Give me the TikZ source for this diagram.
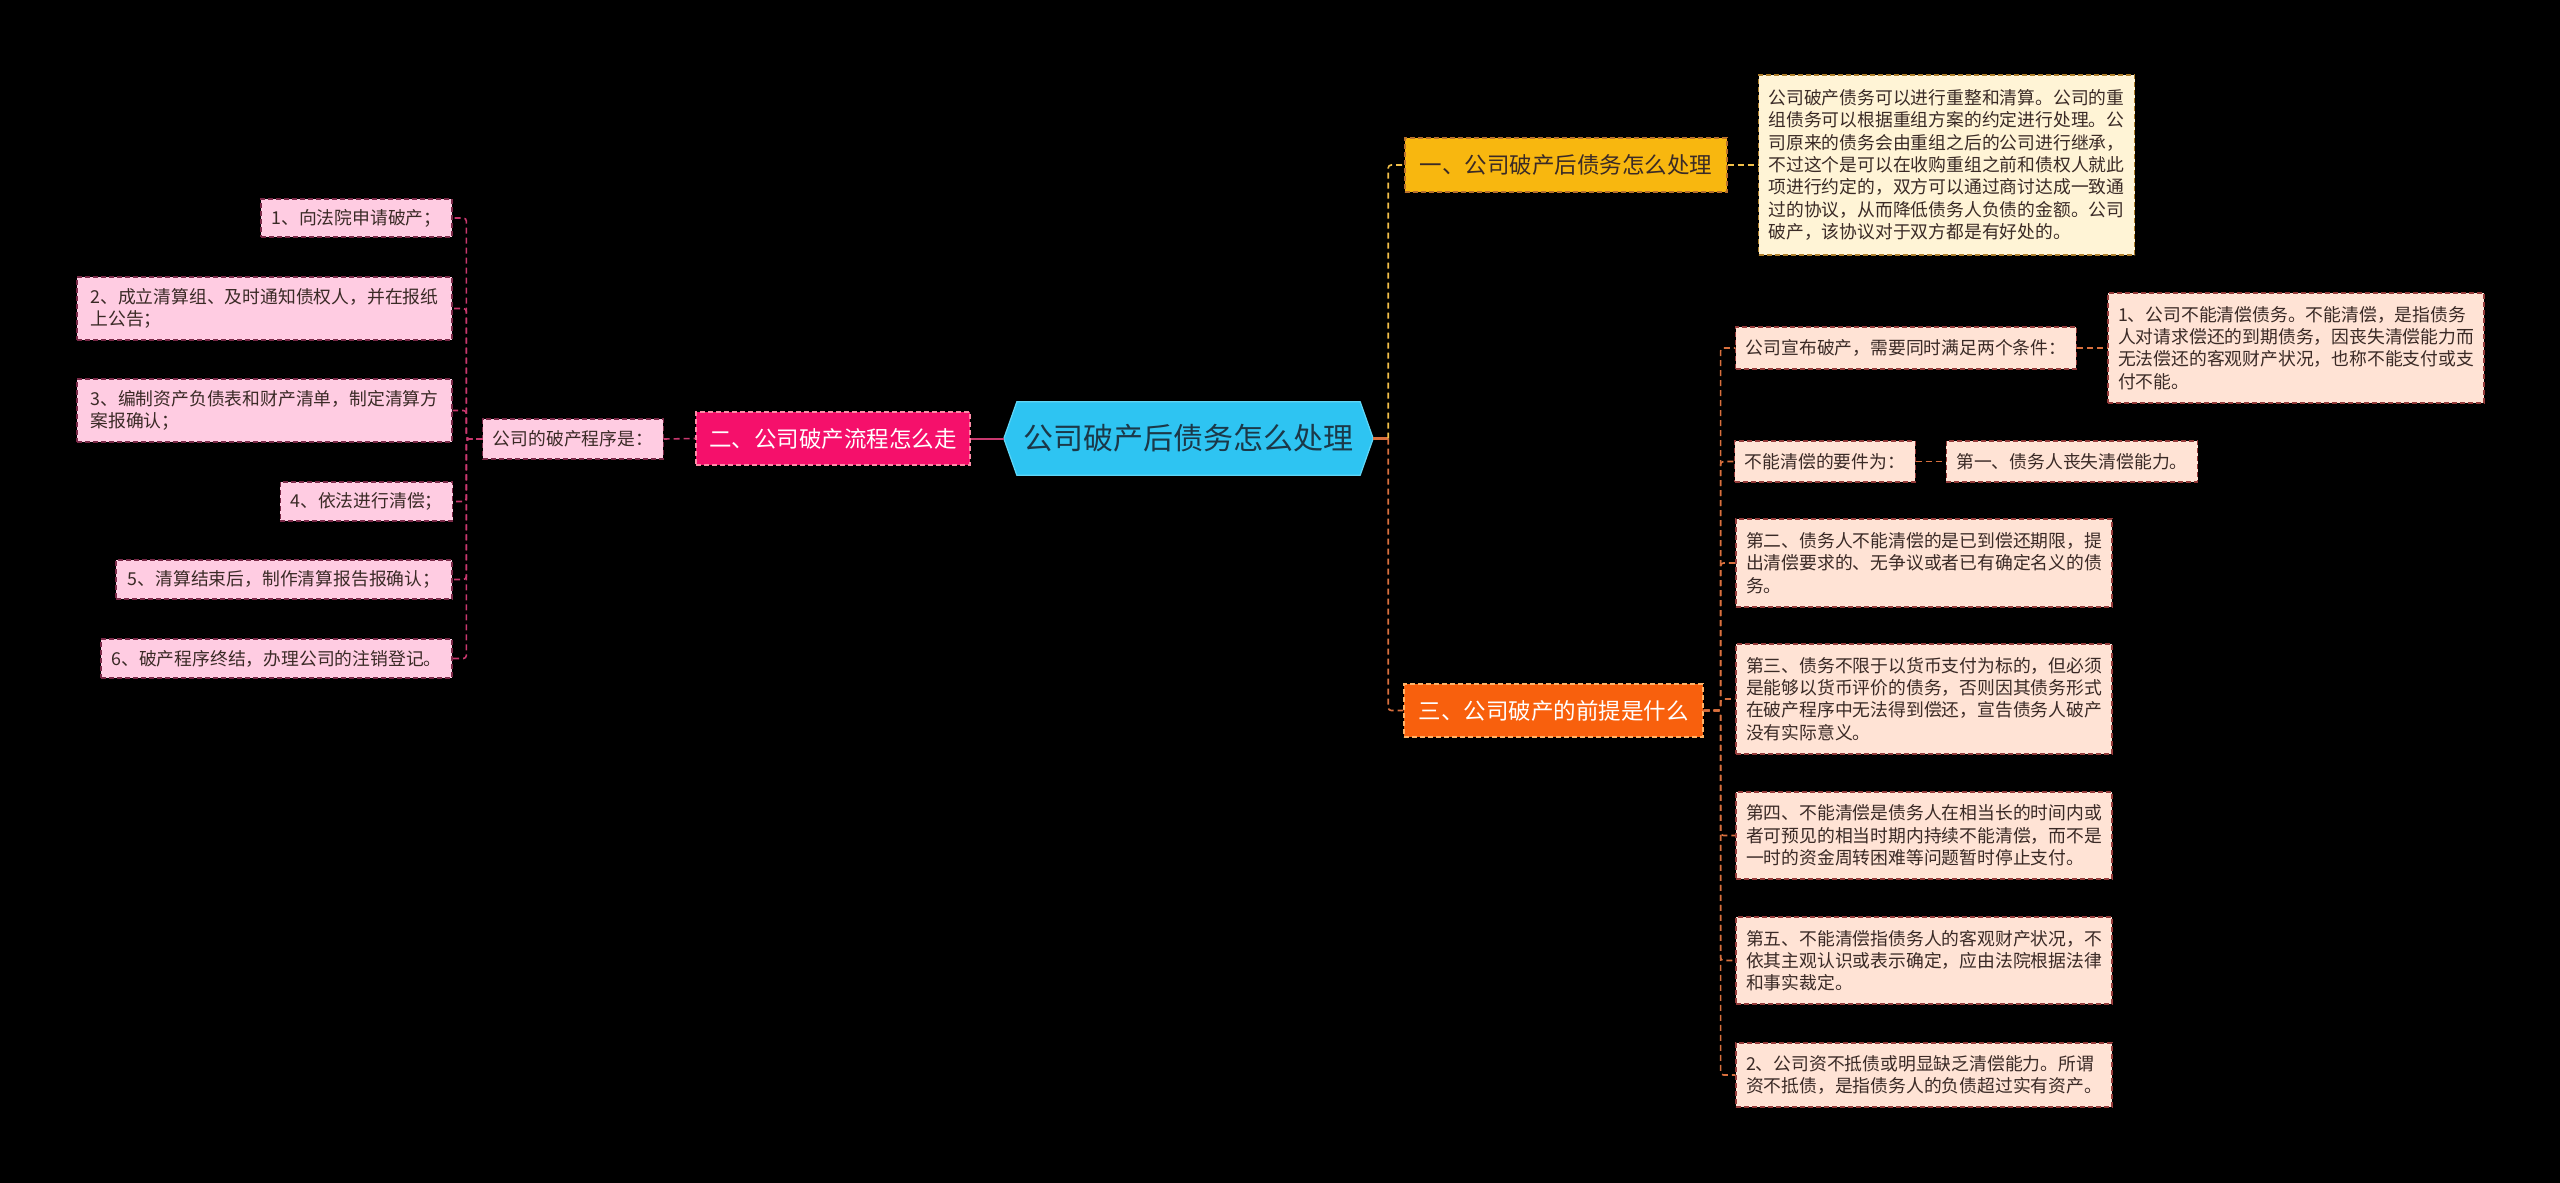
\documentclass[tikz,border=0pt]{standalone}
\usepackage{fontspec}
\setmainfont{Noto Sans CJK SC}
\usetikzlibrary{backgrounds}
\definecolor{rootfill}{HTML}{2EC4F2}
\definecolor{rootline}{HTML}{5FD6F7}
\definecolor{roottext}{HTML}{1B3848}
\definecolor{pinkmain}{HTML}{F5106B}
\definecolor{pinkline}{HTML}{C8386E}
\definecolor{pinklight}{HTML}{FFCCE2}
\definecolor{pinkborder}{HTML}{7A2A48}
\definecolor{yellowmain}{HTML}{F8B70F}
\definecolor{yellowline}{HTML}{F2C04A}
\definecolor{cream}{HTML}{FFF4D6}
\definecolor{orangemain}{HTML}{F8600D}
\definecolor{orangeline}{HTML}{D9703E}
\definecolor{peach}{HTML}{FFE3D5}
\definecolor{darktext}{HTML}{3A2A26}
\tikzset{
  x=1pt, y=-1pt,
  box/.style={draw, dash pattern=on 5pt off 3pt, line width=1.1pt, inner xsep=10pt, inner ysep=0pt,
    align=left, anchor=center, font=\fontsize{17.8}{22.3}\selectfont},
  lbox/.style={box, fill=pinklight, draw=pinkborder, text=darktext},
  rbox/.style={box, fill=peach, draw=pinkborder!80!orange, text=darktext},
  nbox/.style={box, fill=cream, draw=pinkborder!60!yellow, text=darktext},
  mainbox/.style={draw, dash pattern=on 5pt off 3pt, line width=1.1pt, inner xsep=8pt, inner ysep=0pt,
    align=center, anchor=center, font=\fontsize{22.5}{26}\selectfont},
  lconn/.style={draw=pinkline, line width=1.6pt, dash pattern=on 6pt off 4pt, rounded corners=3pt},
  yconn/.style={draw=yellowline, line width=1.6pt, dash pattern=on 6pt off 4pt, rounded corners=3pt},
  oconn/.style={draw=orangeline, line width=1.6pt, dash pattern=on 6pt off 4pt, rounded corners=3pt},
}
\begin{document}
\begin{tikzpicture}
\useasboundingbox (0,0) rectangle (2560,1183);

% root
\node[anchor=center, minimum width=369pt, minimum height=73pt, inner sep=0pt,
  font=\fontsize{30}{34}\selectfont, text=roottext] (root) at (1188.5,438.5) {公司破产后债务怎么处理};
\begin{scope}[on background layer]
\fill[black] (0,0) rectangle (2560,1183);
\path[fill=rootfill, draw=rootline, line width=1.2pt]
  (root.west) -- ([xshift=13pt]root.north west) -- ([xshift=-13pt]root.north east) -- (root.east)
  -- ([xshift=-13pt]root.south east) -- ([xshift=13pt]root.south west) -- cycle;
\end{scope}

% left branch
\node[mainbox, fill=pinkmain, draw=pink!70!pinkmain, text=white, minimum width=274pt, minimum height=53pt] (b2) at (833,438.5) {二、公司破产流程怎么走};
\node[lbox, minimum width=178pt, minimum height=40pt] (p) at (573,439) {公司的破产程序是：};
\node[lbox, minimum width=191pt, minimum height=38pt] (c1) at (356.5,218) {1、向法院申请破产；};
\node[lbox, minimum width=375pt, minimum height=63pt] (c2) at (264.5,308.5) {2、成立清算组、及时通知债权人，并在报纸\\上公告；};
\node[lbox, minimum width=375pt, minimum height=63pt] (c3) at (264.5,410.5) {3、编制资产负债表和财产清单，制定清算方\\案报确认；};
\node[lbox, minimum width=171pt, minimum height=39pt] (c4) at (366.5,501.5) {4、依法进行清偿；};
\node[lbox, minimum width=336pt, minimum height=39pt] (c5) at (284,579.5) {5、清算结束后，制作清算报告报确认；};
\node[lbox, minimum width=351pt, minimum height=39pt] (c6) at (276.5,658.5) {6、破产程序终结，办理公司的注销登记。};

\draw[draw=pinkline, line width=2pt] (b2.east) -- (root.west);
\draw[lconn] (p.east) -- (b2.west);
\foreach \c in {c1,c2,c3,c4,c5,c6}{
  \draw[lconn] (p.west) -- ++(-16,0) |- (\c.east);
}

% right branch 1
\node[mainbox, fill=yellowmain, draw=pinkborder!50!yellowmain, text=darktext, minimum width=322pt, minimum height=54pt] (b1) at (1566,165) {一、公司破产后债务怎么处理};
\node[nbox, minimum width=375pt, minimum height=180pt] (note) at (1946.5,165) {公司破产债务可以进行重整和清算。公司的重\\组债务可以根据重组方案的约定进行处理。公\\司原来的债务会由重组之后的公司进行继承，\\不过这个是可以在收购重组之前和债权人就此\\项进行约定的，双方可以通过商讨达成一致通\\过的协议，从而降低债务人负债的金额。公司\\破产，该协议对于双方都是有好处的。};
\draw[yconn] (b1.east) -- (note.west);

% right branch 3
\node[mainbox, fill=orangemain, draw=orange!60!white, text=white, minimum width=299pt, minimum height=53pt] (b3) at (1553.5,710.5) {三、公司破产的前提是什么};
\node[rbox, minimum width=340pt, minimum height=42pt] (a) at (1906,348) {公司宣布破产，需要同时满足两个条件：};
\node[rbox, minimum width=376pt, minimum height=110pt] (a1) at (2296,348) {1、公司不能清偿债务。不能清偿，是指债务\\人对请求偿还的到期债务，因丧失清偿能力而\\无法偿还的客观财产状况，也称不能支付或支\\付不能。};
\node[rbox, minimum width=178pt, minimum height=41pt] (b) at (1825,461.5) {不能清偿的要件为：};
\node[rbox, minimum width=250pt, minimum height=41pt] (b1x) at (2072,461.5) {第一、债务人丧失清偿能力。};
\node[rbox, minimum width=376pt, minimum height=88pt] (c) at (1924,563) {第二、债务人不能清偿的是已到偿还期限，提\\出清偿要求的、无争议或者已有确定名义的债\\务。};
\node[rbox, minimum width=376pt, minimum height=110pt] (d) at (1924,699) {第三、债务不限于以货币支付为标的，但必须\\是能够以货币评价的债务，否则因其债务形式\\在破产程序中无法得到偿还，宣告债务人破产\\没有实际意义。};
\node[rbox, minimum width=376pt, minimum height=87pt] (e) at (1924,835.5) {第四、不能清偿是债务人在相当长的时间内或\\者可预见的相当时期内持续不能清偿，而不是\\一时的资金周转困难等问题暂时停止支付。};
\node[rbox, minimum width=376pt, minimum height=87pt] (f) at (1924,960.5) {第五、不能清偿指债务人的客观财产状况，不\\依其主观认识或表示确定，应由法院根据法律\\和事实裁定。};
\node[rbox, minimum width=376pt, minimum height=64pt] (g) at (1924,1075) {2、公司资不抵债或明显缺乏清偿能力。所谓\\资不抵债，是指债务人的负债超过实有资产。};

\draw[oconn] (a.east) -- (a1.west);
\draw[oconn] (b.east) -- (b1x.west);
\foreach \c in {a,b,c,d,e,f,g}{
  \draw[oconn] (b3.east) -- ++(17,0) |- (\c.west);
}

% root to right branches
\draw[draw=orangeline, line width=2.4pt] (root.east) -- ++(15,0) coordinate (rj);
\draw[yconn] (rj) |- (b1.west);
\draw[oconn] (rj) |- (b3.west);
\end{tikzpicture}
\end{document}
